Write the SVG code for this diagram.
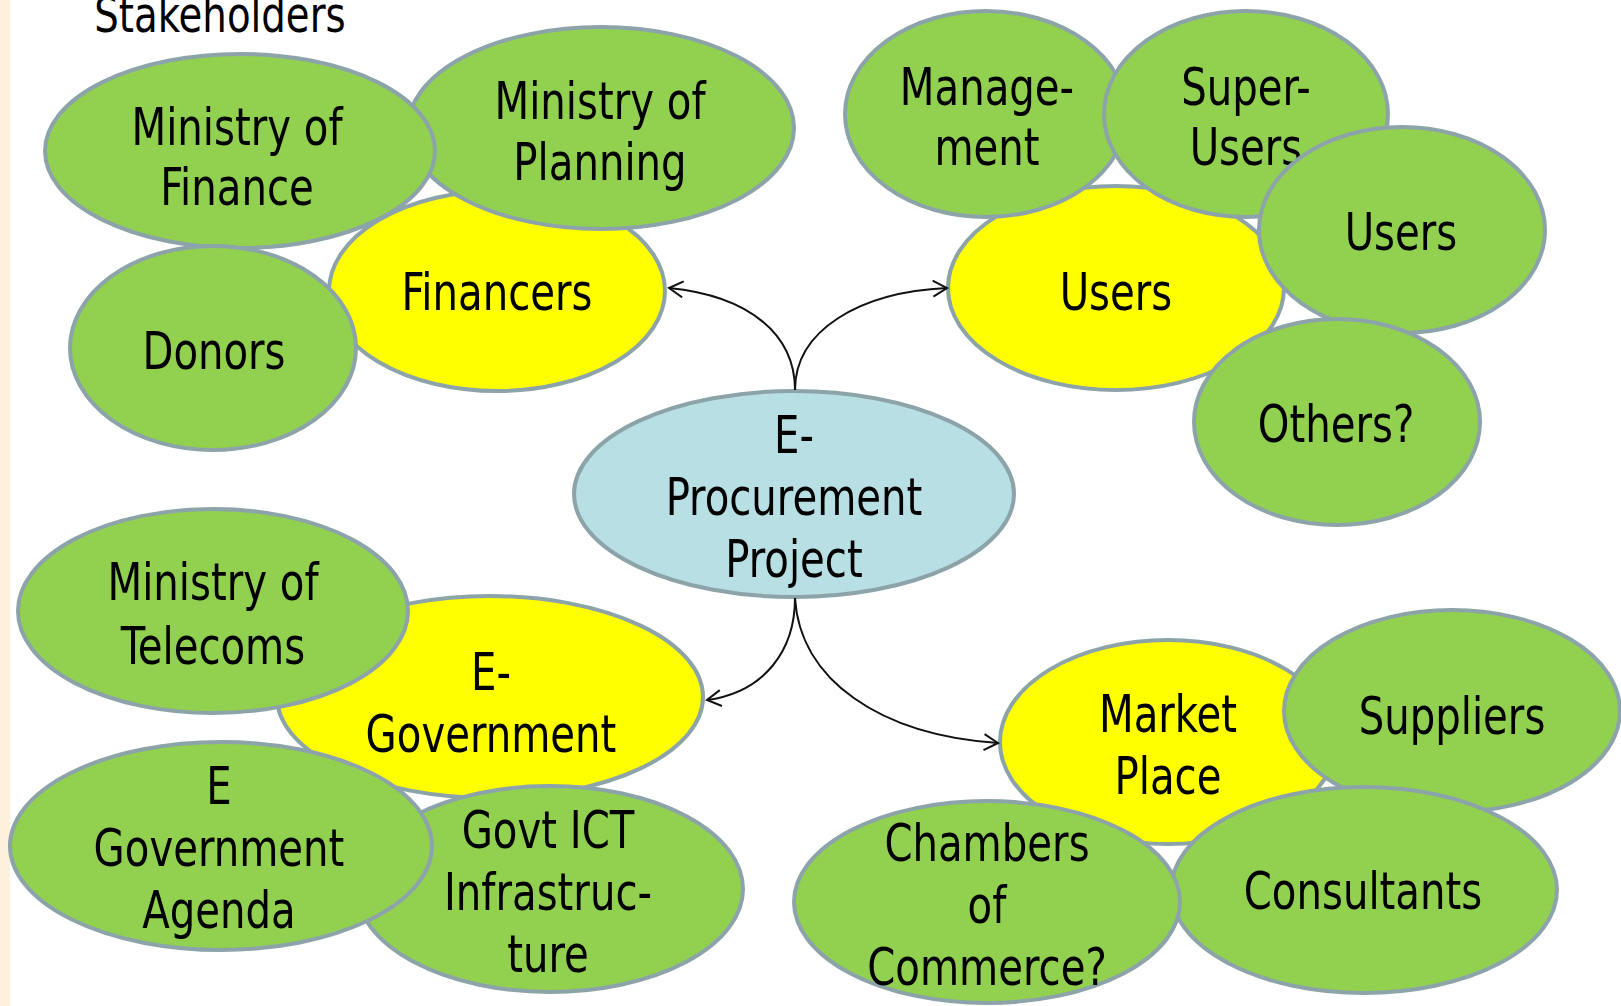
<svg xmlns="http://www.w3.org/2000/svg" width="1621" height="1006" viewBox="0 0 1621 1006">
<defs>
<style>
.g{fill:#92D050;stroke:#8CA4A9;stroke-width:4}
.y{fill:#FFFF00;stroke:#8CA4A9;stroke-width:4}
.b{fill:#B8DFE3;stroke:#8CA4A9;stroke-width:4}
text{font-family:"Liberation Sans Narrow","DejaVu Sans Condensed","DejaVu Sans",sans-serif;font-size:52px;fill:#000;text-anchor:middle}
.c{fill:none;stroke:#111;stroke-width:2}
</style>
<marker id="ah" markerUnits="userSpaceOnUse" markerWidth="20" markerHeight="20" refX="16" refY="9" orient="auto">
<path d="M2,1 L16,9 L2,17" fill="none" stroke="#111" stroke-width="2"/>
</marker>
</defs>
<rect x="0" y="0" width="1621" height="1006" fill="#fff"/>
<rect x="0" y="0" width="10" height="1006" fill="#FDF0DD"/>
<g transform="matrix(0.86 0 0 1 30.8 0)"><text x="220" y="32" style="font-size:50px">Stakeholders</text></g>

<g id="financers"><ellipse class="y" cx="497" cy="291" rx="168" ry="100"/><g transform="matrix(0.86 0 0 1 69.58 0)"><text x="497" y="310">Financers</text></g></g>
<g id="planning"><ellipse class="g" cx="601" cy="128" rx="193" ry="101"/><g transform="matrix(0.86 0 0 1 84 0)"><text x="600" y="119">Ministry of</text><text x="600" y="180">Planning</text></g></g>
<g id="finance"><ellipse class="g" cx="240" cy="151" rx="195" ry="97"/><g transform="matrix(0.86 0 0 1 33.18 0)"><text x="237" y="145">Ministry of</text><text x="237" y="205">Finance</text></g></g>
<g id="donors"><ellipse class="g" cx="213" cy="348" rx="143" ry="102"/><g transform="matrix(0.86 0 0 1 29.96 0)"><text x="214" y="369">Donors</text></g></g>

<g id="users-hub"><ellipse class="y" cx="1116" cy="288" rx="168" ry="102"/><g transform="matrix(0.86 0 0 1 156.24 0)"><text x="1116" y="310">Users</text></g></g>
<g id="management"><ellipse class="g" cx="986" cy="114" rx="141" ry="103"/><g transform="matrix(0.86 0 0 1 138.18 0)"><text x="987" y="105">Manage-</text><text x="987" y="165">ment</text></g></g>
<g id="super-users"><ellipse class="g" cx="1246" cy="114" rx="142" ry="103"/><g transform="matrix(0.86 0 0 1 174.44 0)"><text x="1246" y="105">Super-</text><text x="1246" y="165">Users</text></g></g>
<g id="users"><ellipse class="g" cx="1402" cy="230" rx="143" ry="103"/><g transform="matrix(0.86 0 0 1 196.14 0)"><text x="1401" y="250">Users</text></g></g>
<g id="others"><ellipse class="g" cx="1337" cy="422" rx="143" ry="103"/><g transform="matrix(0.86 0 0 1 187.04 0)"><text x="1336" y="442">Others?</text></g></g>

<g id="eproc"><ellipse class="b" cx="794" cy="494" rx="220" ry="103"/><g transform="matrix(0.86 0 0 1 111.16 0)"><text x="794" y="453">E-</text><text x="794" y="515">Procurement</text><text x="794" y="577">Project</text></g></g>

<g id="egov"><ellipse class="y" cx="490" cy="697" rx="213" ry="101"/><g transform="matrix(0.86 0 0 1 68.74 0)"><text x="491" y="690">E-</text><text x="491" y="752">Government</text></g></g>
<g id="telecoms"><ellipse class="g" cx="213" cy="611" rx="195" ry="102"/><g transform="matrix(0.86 0 0 1 29.82 0)"><text x="213" y="600">Ministry of</text><text x="213" y="664">Telecoms</text></g></g>
<g id="ict"><ellipse class="g" cx="550" cy="889" rx="193" ry="103"/><g transform="matrix(0.86 0 0 1 76.72 0)"><text x="548" y="848">Govt ICT</text><text x="548" y="910">Infrastruc-</text><text x="548" y="972">ture</text></g></g>
<g id="agenda"><ellipse class="g" cx="221" cy="846" rx="211" ry="104"/><g transform="matrix(0.86 0 0 1 30.66 0)"><text x="219" y="804">E</text><text x="219" y="866">Government</text><text x="219" y="928">Agenda</text></g></g>

<g id="market"><ellipse class="y" cx="1168" cy="742" rx="168" ry="102"/><g transform="matrix(0.86 0 0 1 163.52 0)"><text x="1168" y="732">Market</text><text x="1168" y="794">Place</text></g></g>
<g id="suppliers"><ellipse class="g" cx="1452" cy="711" rx="168" ry="101"/><g transform="matrix(0.86 0 0 1 203.28 0)"><text x="1452" y="734">Suppliers</text></g></g>
<g id="consultants"><ellipse class="g" cx="1364" cy="890" rx="193" ry="103"/><g transform="matrix(0.86 0 0 1 190.82 0)"><text x="1363" y="909">Consultants</text></g></g>
<g id="chambers"><ellipse class="g" cx="987" cy="902" rx="193" ry="101"/><g transform="matrix(0.86 0 0 1 138.18 0)"><text x="987" y="861">Chambers</text><text x="987" y="923">of</text><text x="987" y="985">Commerce?</text></g></g>

<g id="connectors">
<path class="c" d="M795,390 C795,335 750,296 669,288" marker-end="url(#ah)"/>
<path class="c" d="M795,390 C795,330 860,292 947,288" marker-end="url(#ah)"/>
<path class="c" d="M795,598 C795,650 765,692 707,700" marker-end="url(#ah)"/>
<path class="c" d="M795,598 C800,680 880,735 998,743" marker-end="url(#ah)"/>
</g>
</svg>
